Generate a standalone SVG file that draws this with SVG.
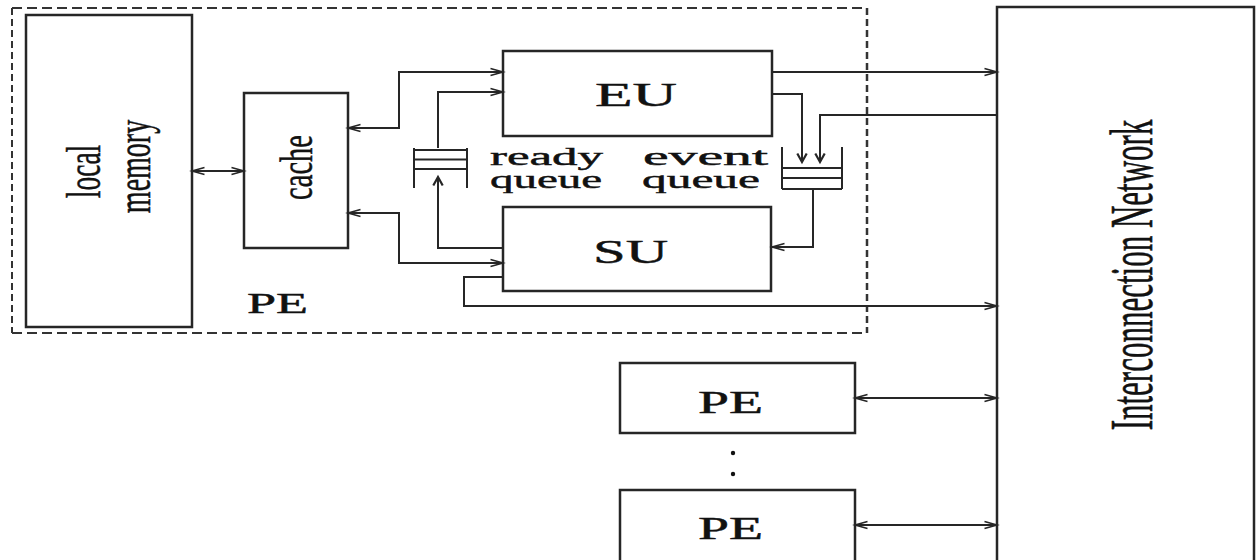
<svg xmlns="http://www.w3.org/2000/svg" width="1256" height="560" viewBox="0 0 1256 560">
  <style>
    .box { fill: #ffffff; stroke: #262626; stroke-width: 2.5; }
    .wire { fill: none; stroke: #262626; stroke-width: 2; }
    .q { fill: none; stroke: #262626; stroke-width: 2; }
    .dash-h { fill: none; stroke: #333333; stroke-width: 2; stroke-dasharray: 10 5; }
    .dash-v { fill: none; stroke: #333333; stroke-width: 2; stroke-dasharray: 7 4; }
    .lbl { font-family: "Liberation Serif", "Times New Roman", serif; fill: #111111; stroke: #111111; stroke-width: 0.45; }
    .rot { stroke-width: 0.3; }
  </style>
  <defs>
    <!-- open arrowhead for horizontal runs -->
    <marker id="ah" viewBox="0 0 13 8" refX="12.5" refY="4" markerWidth="13" markerHeight="8" markerUnits="userSpaceOnUse" orient="auto-start-reverse" overflow="visible">
      <path d="M0,0.4 L12.5,4 L0,7.6" fill="none" stroke="#262626" stroke-width="1.6"/>
    </marker>
    <!-- shorter, heavier arrowhead for vertical runs -->
    <marker id="av" viewBox="0 0 9 10" refX="8.5" refY="5" markerWidth="9" markerHeight="10" markerUnits="userSpaceOnUse" orient="auto" overflow="visible">
      <path d="M0,0.3 L8.5,5 L0,9.7" fill="none" stroke="#262626" stroke-width="2.2"/>
    </marker>
  </defs>

  <!-- processing element boundary -->
  <g id="pe-boundary">
    <line class="dash-h" x1="12" y1="8" x2="867" y2="8"/>
    <line class="dash-h" x1="12" y1="333" x2="867" y2="333"/>
    <line class="dash-v" x1="12" y1="8" x2="12" y2="333"/>
    <line class="dash-v" x1="867" y1="8" x2="867" y2="333" style="stroke-width:2.5"/>
    <text class="lbl" x="247" y="313" font-size="30" textLength="61" lengthAdjust="spacingAndGlyphs">PE</text>
  </g>

  <g id="local-memory">
    <rect class="box" x="26" y="15" width="166" height="312"/>
    <text class="lbl rot" transform="translate(100,171.5) scale(1.8,1) rotate(-90)" text-anchor="middle" font-size="27.5">local</text>
    <text class="lbl rot" transform="translate(150,166.5) scale(1.75,1) rotate(-90)" text-anchor="middle" font-size="28">memory</text>
  </g>

  <g id="cache">
    <rect class="box" x="244" y="93" width="104" height="155"/>
    <text class="lbl rot" transform="translate(312,167.5) scale(1.6,1) rotate(-90)" text-anchor="middle" font-size="28.5">cache</text>
  </g>

  <g id="eu">
    <rect class="box" x="503" y="51" width="269" height="85"/>
    <text class="lbl" x="595" y="106" font-size="33" textLength="82" lengthAdjust="spacingAndGlyphs">EU</text>
  </g>

  <g id="su">
    <rect class="box" x="503" y="207" width="268" height="84"/>
    <text class="lbl" x="593" y="263" font-size="34" textLength="75" lengthAdjust="spacingAndGlyphs">SU</text>
  </g>

  <g id="ready-queue">
    <path class="q" d="M414,148 V188 M467,148 V188 M414,150 H467 M414,159.5 H467 M414,169 H467"/>
    <text class="lbl" x="490" y="165" font-size="26" textLength="113" lengthAdjust="spacingAndGlyphs">ready</text>
    <text class="lbl" x="490" y="188" font-size="26" textLength="112" lengthAdjust="spacingAndGlyphs">queue</text>
  </g>

  <g id="event-queue">
    <path class="q" d="M782,147 V189 M842,147 V189 M782,168 H842 M782,178 H842 M782,189 H842"/>
    <text class="lbl" x="643" y="165" font-size="26" textLength="125" lengthAdjust="spacingAndGlyphs">event</text>
    <text class="lbl" x="642" y="188" font-size="26" textLength="118" lengthAdjust="spacingAndGlyphs">queue</text>
  </g>

  <g id="network">
    <rect class="box" x="997" y="7" width="257" height="570"/>
    <text class="lbl rot" transform="translate(1152,275) scale(2,1) rotate(-90)" text-anchor="middle" font-size="31">Interconnection Network</text>
  </g>

  <g id="pe-1">
    <rect class="box" x="620" y="363" width="235" height="70"/>
    <text class="lbl" x="698" y="413" font-size="31" textLength="65" lengthAdjust="spacingAndGlyphs">PE</text>
  </g>

  <g id="pe-n">
    <rect class="box" x="620" y="490" width="235" height="90"/>
    <text class="lbl" x="698" y="539" font-size="31" textLength="65" lengthAdjust="spacingAndGlyphs">PE</text>
  </g>

  <g id="ellipsis">
    <circle cx="733" cy="453" r="2.2" fill="#111"/>
    <circle cx="733" cy="474" r="2.2" fill="#111"/>
  </g>

  <g id="connectors">
    <!-- memory <-> cache -->
    <path class="wire" d="M192,171 H244" marker-start="url(#ah)" marker-end="url(#ah)"/>
    <!-- cache <-> EU -->
    <path class="wire" d="M348,128 H399 V72 H503" marker-start="url(#ah)" marker-end="url(#ah)"/>
    <!-- cache <-> SU -->
    <path class="wire" d="M348,213 H399 V263 H503" marker-start="url(#ah)" marker-end="url(#ah)"/>
    <!-- ready queue -> EU -->
    <path class="wire" d="M438,148 V92 H503" marker-end="url(#ah)"/>
    <!-- SU -> ready queue -->
    <path class="wire" d="M503,248 H438 V177" marker-end="url(#av)"/>
    <!-- SU -> network -->
    <path class="wire" d="M503,277 H464 V306 H997" marker-end="url(#ah)"/>
    <!-- EU -> network -->
    <path class="wire" d="M772,72 H997" marker-end="url(#ah)"/>
    <!-- EU -> event queue -->
    <path class="wire" d="M772,94 H802 V162" marker-end="url(#av)"/>
    <!-- network -> event queue -->
    <path class="wire" d="M997,115 H820 V162" marker-end="url(#av)"/>
    <!-- event queue -> SU -->
    <path class="wire" d="M813,189 V247 H772" marker-end="url(#ah)"/>
    <!-- other PEs <-> network -->
    <path class="wire" d="M855,398 H997" marker-start="url(#ah)" marker-end="url(#ah)"/>
    <path class="wire" d="M855,525 H997" marker-start="url(#ah)" marker-end="url(#ah)"/>
  </g>
</svg>
